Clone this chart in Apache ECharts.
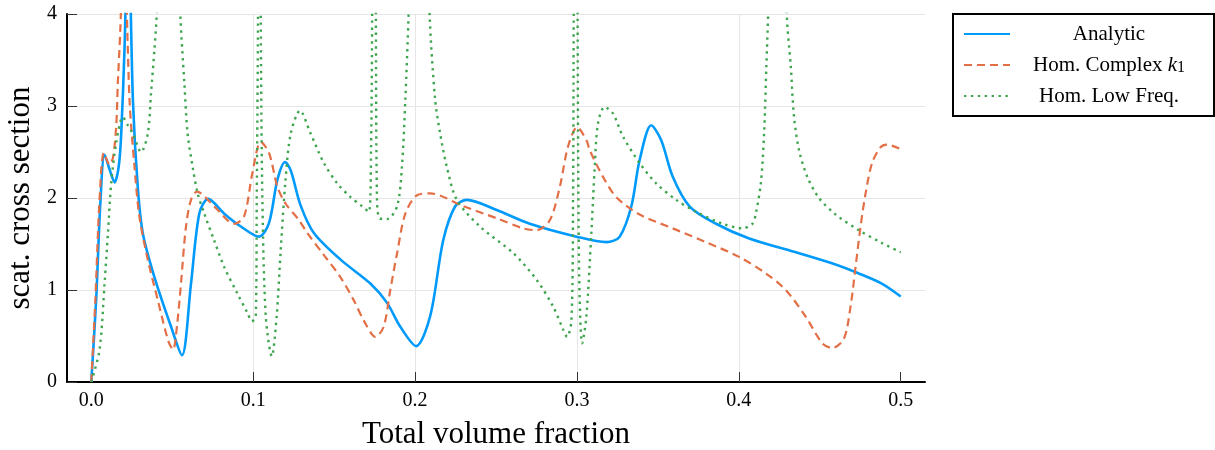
<!DOCTYPE html>
<html>
<head>
<meta charset="utf-8">
<title>scat. cross section</title>
<script src="https://cdn.jsdelivr.net/npm/echarts@6/dist/echarts.min.js"></script>
<style>
  html, body { margin: 0; padding: 0; background: #fff; }
  #chart { width: 1215px; height: 450px; }
</style>
</head>
<body>
<div id="chart"></div>
<script>
// values (x: total volume fraction)
var analyticX = [0, 0.003, 0.0057, 0.0082, 0.0115, 0.0144, 0.017, 0.0185, 0.0205, 0.0228, 0.0257, 0.0287, 0.0318, 0.039, 0.0493, 0.056, 0.0616, 0.0667, 0.0722, 0.0821, 0.0924, 0.1036, 0.1098, 0.115, 0.1197, 0.1232, 0.1293, 0.1375, 0.154, 0.1724, 0.1827, 0.1909, 0.2007, 0.2094, 0.2174, 0.2248, 0.232, 0.2504, 0.2709, 0.2997, 0.3182, 0.3264, 0.3336, 0.3387, 0.3459, 0.352, 0.3592, 0.3695, 0.3859, 0.4064, 0.4372, 0.4575, 0.4741, 0.4883, 0.5];
var analyticY = [0, 0.89, 1.98, 2.47, 2.3, 2.17, 2.35, 2.7, 3.61, 5.0, 3.07, 2.12, 1.62, 1.14, 0.6, 0.29, 1.07, 1.83, 1.99, 1.83, 1.69, 1.58, 1.73, 2.2, 2.39, 2.3, 1.92, 1.62, 1.33, 1.07, 0.86, 0.6, 0.39, 0.72, 1.54, 1.91, 1.98, 1.87, 1.72, 1.58, 1.52, 1.58, 1.91, 2.41, 2.79, 2.63, 2.23, 1.91, 1.72, 1.56, 1.4, 1.29, 1.18, 1.07, 0.93];

var complexX = [0, 0.0025, 0.0051, 0.0078, 0.0113, 0.0135, 0.0154, 0.0164, 0.018, 0.02, 0.0236, 0.0267, 0.0297, 0.0349, 0.0411, 0.0475, 0.0505, 0.053, 0.0554, 0.0585, 0.0616, 0.0653, 0.0759, 0.0882, 0.0944, 0.0995, 0.1047, 0.1098, 0.115, 0.12, 0.1283, 0.1334, 0.1437, 0.1539, 0.1621, 0.1683, 0.1755, 0.1806, 0.1847, 0.1889, 0.194, 0.2012, 0.2094, 0.2299, 0.2504, 0.2668, 0.2751, 0.2833, 0.2894, 0.2945, 0.3001, 0.3058, 0.3079, 0.3161, 0.3243, 0.3387, 0.3592, 0.3797, 0.4002, 0.4167, 0.429, 0.4413, 0.4516, 0.4577, 0.4649, 0.469, 0.4721, 0.4752, 0.4783, 0.4823, 0.4875, 0.4916, 0.5];
var complexY = [0, 0.89, 1.98, 2.49, 2.36, 2.45, 2.78, 3.25, 3.86, 5.0, 3.07, 2.34, 1.8, 1.33, 0.89, 0.45, 0.35, 0.62, 1.07, 1.69, 1.98, 2.07, 1.91, 1.72, 1.8, 2.27, 2.61, 2.49, 2.12, 1.94, 1.76, 1.62, 1.38, 1.14, 0.89, 0.67, 0.49, 0.6, 1.0, 1.4, 1.83, 2.03, 2.05, 1.91, 1.78, 1.67, 1.65, 1.76, 2.12, 2.56, 2.77, 2.63, 2.52, 2.23, 2.01, 1.82, 1.67, 1.52, 1.36, 1.18, 1.0, 0.71, 0.42, 0.37, 0.47, 0.82, 1.25, 1.69, 2.05, 2.38, 2.55, 2.58, 2.53];

var lowFreqX = [0, 0.0051, 0.0082, 0.0103, 0.0123, 0.0154, 0.0195, 0.0226, 0.0257, 0.0308, 0.0349, 0.0369, 0.039, 0.0404, 0.047, 0.055, 0.0575, 0.0595, 0.0626, 0.0657, 0.0698, 0.0759, 0.0821, 0.0903, 0.0965, 0.0991, 0.1016, 0.1022, 0.103, 0.1038, 0.1047, 0.1057, 0.1078, 0.1115, 0.1145, 0.117, 0.12, 0.1232, 0.1289, 0.1355, 0.1437, 0.1519, 0.1601, 0.1673, 0.1714, 0.1728, 0.1735, 0.1748, 0.1758, 0.1765, 0.1781, 0.1827, 0.1889, 0.1919, 0.194, 0.196, 0.2025, 0.209, 0.2124, 0.2155, 0.2196, 0.2258, 0.2401, 0.2607, 0.2751, 0.2853, 0.2915, 0.2939, 0.2966, 0.2976, 0.298, 0.2993, 0.3004, 0.3009, 0.3017, 0.3032, 0.3058, 0.3089, 0.311, 0.313, 0.3171, 0.3222, 0.3284, 0.3387, 0.3489, 0.3613, 0.3736, 0.39, 0.4023, 0.4084, 0.4105, 0.4136, 0.4156, 0.417, 0.4181, 0.424, 0.4296, 0.4321, 0.4341, 0.4372, 0.4423, 0.4495, 0.4598, 0.4741, 0.4885, 0.5];
var lowFreqY = [0, 0.35, 1.07, 1.62, 2.16, 2.6, 2.88, 2.79, 2.7, 2.5, 2.7, 3.14, 3.61, 4.0, 8.0, 4.0, 3.25, 2.7, 2.34, 2.05, 1.83, 1.54, 1.25, 0.96, 0.75, 0.66, 0.71, 1.98, 4.0, 10, 4.0, 1.98, 0.71, 0.28, 0.71, 1.43, 2.2, 2.7, 2.95, 2.7, 2.38, 2.16, 2.01, 1.91, 1.85, 2.52, 4.0, 10, 4.0, 1.98, 1.78, 1.77, 1.91, 2.34, 3.07, 4.0, 8.0, 4.0, 3.07, 2.7, 2.34, 1.98, 1.69, 1.4, 1.11, 0.82, 0.57, 0.49, 0.67, 1.98, 4.0, 10, 4.0, 1.98, 0.89, 0.42, 0.71, 1.62, 2.34, 2.81, 2.99, 2.92, 2.67, 2.38, 2.16, 1.98, 1.85, 1.72, 1.67, 1.72, 1.83, 2.16, 2.7, 3.43, 4.0, 8.0, 4.0, 3.43, 2.88, 2.52, 2.23, 2.0, 1.82, 1.65, 1.51, 1.41];

var xTicks = [0, 0.1, 0.2, 0.3, 0.4, 0.5];
var seriesNames = ["Analytic", "Hom. Complex k1", "Hom. Low Freq."];

function zip(xs, ys) {
  var out = [];
  for (var i = 0; i < xs.length; i++) out.push([xs[i], ys[i]]);
  return out;
}

var serif = "Liberation Serif";
var chart = echarts.init(document.getElementById("chart"));

chart.setOption({
  backgroundColor: "#fff",
  animation: false,
  grid: {
    left: 67,
    right: 290,
    top: 14,
    bottom: 68,
    containLabel: false,
    outerBoundsMode: "none"
  },
  legend: {
    orient: "vertical",
    left: 953,
    top: 14,
    padding: [9, 11, 9, 10],
    itemWidth: 46,
    itemHeight: 14,
    itemGap: 9,
    borderColor: "#000",
    borderWidth: 2,
    backgroundColor: "#fff",
    selectedMode: false,
    data: seriesNames,
    itemStyle: { color: "rgba(0,0,0,0)", borderWidth: 0, opacity: 0 },
    formatter: function (name) {
      if (name === "Hom. Complex k1") {
        return "{c|Hom. Complex }{k|k}{s|1}";
      }
      return "{c|" + name + "}";
    },
    textStyle: {
      fontFamily: serif,
      fontSize: 21,
      color: "#000",
      width: 188,
      lineHeight: 22,
      rich: {
        c: { fontFamily: serif, fontSize: 21, color: "#000", align: "center", lineHeight: 22 },
        k: { fontFamily: serif, fontStyle: "italic", fontSize: 21, color: "#000", align: "center", lineHeight: 22 },
        s: { fontFamily: serif, fontSize: 16, color: "#000", align: "center", verticalAlign: "bottom", lineHeight: 17 }
      }
    }
  },
  xAxis: {
    type: "value",
    min: -0.015,
    max: 0.515,
    splitNumber: 5,
    name: "Total volume fraction",
    nameLocation: "middle",
    nameGap: 37,
    nameTextStyle: { fontFamily: serif, fontSize: 31, color: "#000" },
    axisLine: { onZero: false, lineStyle: { color: "#000", width: 2 } },
    axisTick: {
      inside: true,
      length: 10,
      customValues: xTicks,
      lineStyle: { color: "#333", width: 1 }
    },
    axisLabel: {
      customValues: xTicks,
      fontFamily: serif,
      fontSize: 20,
      color: "#000",
      margin: 9,
      formatter: function (v) { return v.toFixed(1); }
    },
    splitLine: {
      show: true,
      showMinLine: false,
      showMaxLine: false,
      lineStyle: { color: "#e6e6e6", width: 1 }
    }
  },
  yAxis: {
    type: "value",
    min: 0,
    max: 4,
    interval: 1,
    name: "scat. cross section",
    nameLocation: "middle",
    nameGap: 31,
    nameTextStyle: { fontFamily: serif, fontSize: 31, color: "#000" },
    axisLine: { onZero: false, lineStyle: { color: "#000", width: 2 } },
    axisTick: { inside: true, length: 10, lineStyle: { color: "#333", width: 1 } },
    axisLabel: { fontFamily: serif, fontSize: 20, color: "#000", margin: 10 },
    splitLine: { show: true, lineStyle: { color: "#e6e6e6", width: 1 } }
  },
  series: [
    {
      name: seriesNames[0],
      type: "line",
      data: zip(analyticX, analyticY),
      symbol: "none",
      smooth: 0.3,
      clip: true,
      color: "#009AFA",
      lineStyle: { color: "#009AFA", width: 2.6 }
    },
    {
      name: seriesNames[1],
      type: "line",
      data: zip(complexX, complexY),
      symbol: "none",
      smooth: 0.3,
      clip: true,
      color: "#E36F47",
      lineStyle: { color: "#E36F47", width: 2.2, type: [8, 5] }
    },
    {
      name: seriesNames[2],
      type: "line",
      data: zip(lowFreqX, lowFreqY),
      symbol: "none",
      smooth: 0.3,
      clip: true,
      color: "#3EA44E",
      lineStyle: { color: "#3EA44E", width: 2.4, type: [2.4, 4.5] }
    }
  ]
});
</script>
</body>
</html>
